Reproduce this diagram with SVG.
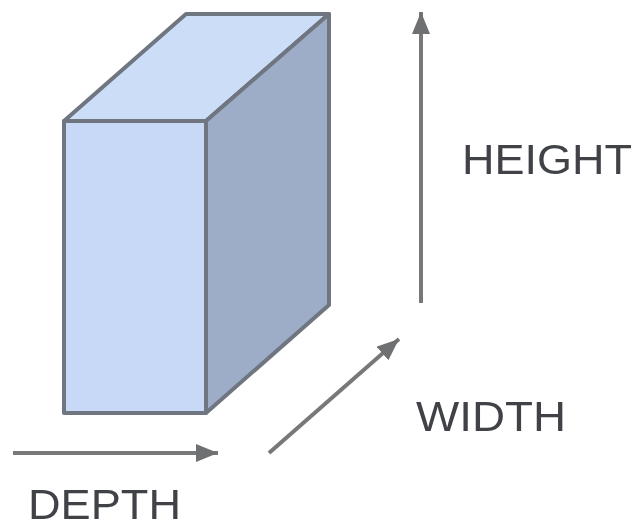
<svg xmlns="http://www.w3.org/2000/svg" width="636" height="525" viewBox="0 0 636 525">
<style>
.face{stroke:#6f7680;stroke-width:4;stroke-linejoin:round}
.conn{stroke:#77787a;stroke-width:4;fill:none}
.lbl{font-family:"Liberation Sans",Arial,sans-serif;font-size:42px;fill:#3f4347}
.soft{filter:url(#s)}
</style>
<defs>
<filter id="s" x="-5%" y="-5%" width="110%" height="110%"><feGaussianBlur stdDeviation="0.7"/></filter>
<marker id="a" markerUnits="userSpaceOnUse" markerWidth="24" markerHeight="20" refX="22" refY="9" orient="auto"><path d="M0 0L22 9L0 18z" fill="#6e6f71"/></marker>
</defs>
<rect width="636" height="525" fill="#fff"/>
<g id="box" class="soft">
<path class="face" fill="#ccddf7" d="M64 121L186 14H329L206 121z"/>
<path class="face" fill="#9dadc8" d="M206 121L329 14V305L206 413z"/>
<rect class="face" fill="#c7d9f6" x="64" y="121" width="142" height="292"/>
</g>
<g id="connectors" class="soft">
<path class="conn" marker-end="url(#a)" d="M421 303V12"/>
<path class="conn" marker-end="url(#a)" d="M269 453L399 339"/>
<path class="conn" marker-end="url(#a)" d="M13 453H218"/>
</g>
<g id="label-height" class="soft"><text class="lbl" x="462" y="174" textLength="170" lengthAdjust="spacingAndGlyphs">HEIGHT</text></g>
<g id="label-width" class="soft"><text class="lbl" x="416" y="431" textLength="150" lengthAdjust="spacingAndGlyphs">WIDTH</text></g>
<g id="label-depth" class="soft"><text class="lbl" x="28" y="519" textLength="153" lengthAdjust="spacingAndGlyphs">DEPTH</text></g>
</svg>
